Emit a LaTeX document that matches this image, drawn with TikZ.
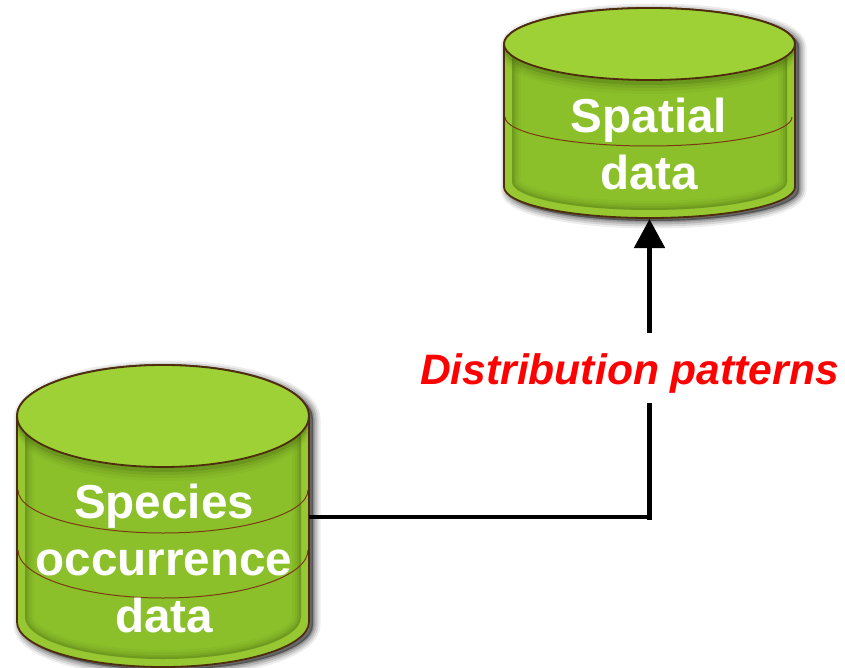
\documentclass[tikz,border=0pt]{standalone}
\usepackage{fontspec}
\setmainfont{Liberation Sans}
\usetikzlibrary{arrows.meta}
\definecolor{lidgreen}{HTML}{9DD135}
\definecolor{bodygreen}{HTML}{8CC02B}
\definecolor{rimgreen}{HTML}{97C832}
\definecolor{darkgreen}{HTML}{3F5F0E}
\definecolor{edgebrown}{HTML}{4E2C0E}
\definecolor{bandbrown}{HTML}{7A3A12}
\tikzset{
  cyltext/.style={text=white,font=\bfseries\fontsize{47.6}{57}\selectfont,align=center,inner sep=0pt},
  anchorbox/.style={inner sep=0pt,outer sep=0pt,rectangle},
  pathlabel/.style={text=red,font=\bfseries\itshape\fontsize{42.6}{50}\selectfont,inner sep=0pt},
  conn/.style={line width=5pt,black},
  band/.style={bandbrown,line width=1pt},
  outline/.style={draw=edgebrown,line width=1.8pt}
}
% #1 left, #2 right, #3 lid centre y, #4 lid ry, #5 side bottom y, #6 bottom ry
\newcommand{\drawcyl}[6]{%
  \pgfmathsetmacro{\rxx}{(#2-#1)/2}%
  \pgfmathsetmacro{\rxin}{\rxx-8}%
  \pgfmathsetmacro{\lin}{#1+8}%
  \pgfmathsetmacro{\rin}{#2-8}%
  \pgfmathsetmacro{\syin}{#5-5}%
  \pgfmathsetmacro{\rbin}{#6-3}%
  \def\silh{(#1,-#3) arc[start angle=180,end angle=0,x radius=\rxx,y radius=#4] -- (#2,-#5) arc[start angle=360,end angle=180,x radius=\rxx,y radius=#6] -- cycle}%
  \def\panel{(\lin,-#3) -- (\lin,-\syin) arc[start angle=180,end angle=360,x radius=\rxin,y radius=\rbin] -- (\rin,-#3) -- cycle}%
  % soft shadow
  \foreach \w/\o in {15/.07,11/.10,7/.14,3/.18}{%
    \draw[line width=\w pt,black,opacity=\o,line join=round,fill=black,fill opacity=\o,xshift=4pt,yshift=-3pt] \silh;}%
  \fill[rimgreen] \silh;
  \begin{scope}
    \clip \panel;
    \fill[bodygreen] \panel;
    \foreach \w/\o in {18/.06,13/.08,8/.12,4/.18}{%
      \draw[line width=\w pt,darkgreen,opacity=\o] \panel;}%
  \end{scope}
  \begin{scope}
    \clip \silh;
    \foreach \d/\o in {14/.06,11/.08,8/.12,5/.22}{%
      \fill[darkgreen,opacity=\o] (#1,-#3-\d) arc[start angle=180,end angle=360,x radius=\rxx,y radius=#4] -- (#2,-#3) arc[start angle=0,end angle=180,x radius=\rxx,y radius=#4] -- cycle;}%
  \end{scope}
  \draw[outline] \silh;
  \fill[lidgreen] (#1+\rxx,-#3) ellipse[x radius=\rxx,y radius=#4];
  \draw[outline] (#1+\rxx,-#3) ellipse[x radius=\rxx,y radius=#4];
}
\begin{document}
\begin{tikzpicture}[x=1pt,y=1pt]
\useasboundingbox (0,0) rectangle (845,-668);
\fill[white] (0,0) rectangle (845,-668);
% upper cylinder
\drawcyl{504}{795}{44}{36}{187}{31}
\draw[band] (505,-117) arc[start angle=180,end angle=360,x radius=143.5,y radius=29];
% lower cylinder
\drawcyl{17}{309}{416}{51}{622}{45}
\draw[band] (18,-490) arc[start angle=180,end angle=360,x radius=145,y radius=43];
\draw[band] (18,-550) arc[start angle=180,end angle=360,x radius=145,y radius=48];
% text
\node[cyltext] (spatialtext) at (649,-143.5) {Spatial\\data};
\node[cyltext] (occtext) at (164,-558) {Species\\occurrence\\data};
% anchors of the drums
\node[anchorbox,minimum width=291pt,minimum height=211pt] (spatial) at (649.5,-113.5) {};
\node[anchorbox,minimum width=292pt,minimum height=300pt] (occ) at (163,-517) {};
% label and connector
\node[pathlabel,minimum height=64pt] (lab) at (629.5,-373) {Distribution patterns};
\coordinate (corner) at (occ.east -| spatial.south);
\coordinate (gaplow) at (lab.south -| spatial.south);
\coordinate[yshift=8pt] (gaphigh) at (lab.north -| spatial.south);
\draw[black,line width=4pt] (occ.east) -- (corner);
\draw[conn,line cap=rect] (corner) -- (gaplow);
\draw[conn,-{Triangle[length=29pt,width=30pt]}] (gaphigh) -- (spatial.south);
\end{tikzpicture}
\end{document}
